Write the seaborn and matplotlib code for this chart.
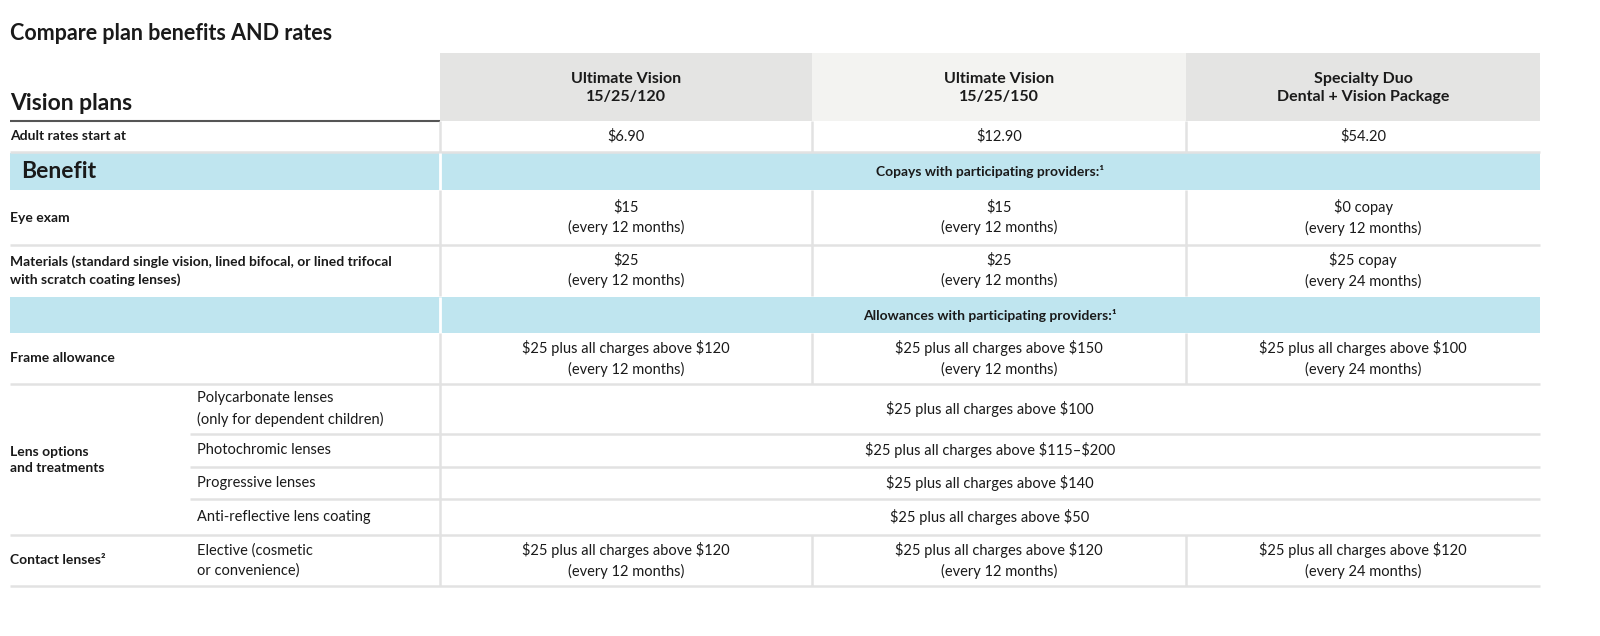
import matplotlib
matplotlib.use("Agg")
import matplotlib.pyplot as plt
import seaborn as sns
from matplotlib.patches import Rectangle

sns.set_theme(style="white")
plt.rcParams['font.family'] = ['Lato', 'DejaVu Sans']
plt.rcParams['text.parse_math'] = False

# ---- table content ----
title = "Compare plan benefits AND rates"
plans = ["Ultimate Vision\n15/25/120", "Ultimate Vision\n15/25/150", "Specialty Duo\nDental + Vision Package"]
rates = ["$6.90", "$12.90", "$54.20"]
copay_band = "Copays with participating providers:¹"
allow_band = "Allowances with participating providers:¹"
eye_exam = ["$15\n(every 12 months)", "$15\n(every 12 months)", "$0 copay\n(every 12 months)"]
materials = ["$25\n(every 12 months)", "$25\n(every 12 months)", "$25 copay\n(every 24 months)"]
frame = ["$25 plus all charges above $120\n(every 12 months)",
         "$25 plus all charges above $150\n(every 12 months)",
         "$25 plus all charges above $100\n(every 24 months)"]
lens_names = ["Polycarbonate lenses\n(only for dependent children)", "Photochromic lenses",
              "Progressive lenses", "Anti-reflective lens coating"]
lens_values = ["$25 plus all charges above $100", "$25 plus all charges above $115–$200",
               "$25 plus all charges above $140", "$25 plus all charges above $50"]
contacts = ["$25 plus all charges above $120\n(every 12 months)",
            "$25 plus all charges above $120\n(every 12 months)",
            "$25 plus all charges above $120\n(every 24 months)"]

# ---- layout ----
W, H = 1600, 636
fig = plt.figure(figsize=(16, 6.36), dpi=100)
ax = fig.add_axes([0, 0, 1, 1])
ax.set_xlim(0, W)
ax.set_ylim(H, 0)
ax.axis("off")

L, C0, C1, C2, R = 10, 440, 812, 1186, 1540
cols = [(C0, C1), (C1, C2), (C2, R)]
centers = [(a + b) / 2 for a, b in cols]
grid = "#e2e2e2"
blue = "#bfe5ef"
ink = "#1a1a1a"
fs = 10.5

def hline(y, x0=L, x1=R, c=grid, lw=1.8):
    ax.plot([x0, x1], [y, y], color=c, lw=lw, solid_capstyle="butt")

def vline(x, y0, y1, c=grid, lw=1.8):
    ax.plot([x, x], [y0, y1], color=c, lw=lw, solid_capstyle="butt")

ax.text(L, 34, title, fontsize=15.5, fontweight="bold", color=ink, va="center")

# header
for (a, b), col, name in zip(cols, ["#e4e4e3", "#f3f3f1", "#e4e4e3"], plans):
    ax.add_patch(Rectangle((a, 53), b - a, 68, color=col, lw=0))
    ax.text((a + b) / 2, 88, name, fontsize=11.5, fontweight="bold", ha="center", va="center",
            color=ink, linespacing=1.3)
ax.text(L, 104, "Vision plans", fontsize=16.5, fontweight="bold", color=ink, va="center")
hline(121, L, C0, c="#555555", lw=1.5)

def row(y0, y1, label, values, sub=None):
    ym = (y0 + y1) / 2
    if label:
        ax.text(L, ym, label, fontsize=10, fontweight="bold", va="center", color=ink, linespacing=1.5)
    if sub:
        ax.text(197, ym, sub, fontsize=fs, va="center", color=ink, linespacing=1.5)
    if len(values) == 1:
        ax.text((C0 + R) / 2, ym, values[0], fontsize=fs, ha="center", va="center", color=ink)
    else:
        for x, v in zip(centers, values):
            ax.text(x, ym, v, fontsize=fs, ha="center", va="center", color=ink, linespacing=1.5)
        for x in (C1, C2):
            vline(x, y0, y1)
    vline(C0, y0, y1)

def band(y0, y1, text, left=None):
    ax.add_patch(Rectangle((L, y0), R - L, y1 - y0, color=blue, lw=0))
    vline(C0, y0, y1, c="white", lw=2)
    ax.text((C0 + R) / 2, (y0 + y1) / 2, text, fontsize=10, fontweight="bold", ha="center",
            va="center", color=ink)
    if left:
        ax.text(21, (y0 + y1) / 2, left, fontsize=16.5, fontweight="bold", va="center", color=ink)

row(121, 152, "Adult rates start at", rates)
hline(152)
band(153, 190, copay_band, "Benefit")
row(190, 245, "Eye exam", eye_exam)
hline(245)
row(245, 296, "Materials (standard single vision, lined bifocal, or lined trifocal\nwith scratch coating lenses)", materials)
band(297, 333, allow_band)
row(333, 384, "Frame allowance", frame)
hline(384)
bounds = [384, 434, 467, 499, 535]
for i, (n, v) in enumerate(zip(lens_names, lens_values)):
    row(bounds[i], bounds[i + 1], None, [v], sub=n)
    if i < 3:
        hline(bounds[i + 1], 190, R)
ax.text(L, 460, "Lens options\nand treatments", fontsize=10, fontweight="bold", va="center",
        color=ink, linespacing=1.5)
hline(535)
row(535, 586, "Contact lenses²", contacts, sub="Elective (cosmetic\nor convenience)")
hline(586)

fig.savefig("out.png", dpi=100, facecolor="white")
